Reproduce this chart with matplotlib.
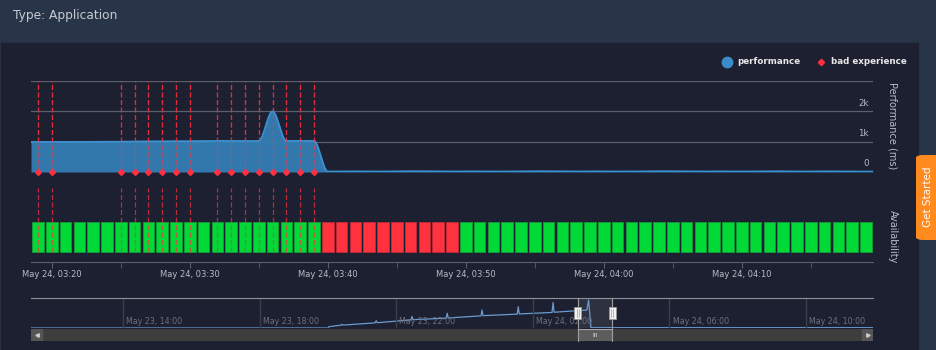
import numpy as np
import matplotlib
matplotlib.use('Agg')
import matplotlib.pyplot as plt
from matplotlib.patches import Rectangle, FancyBboxPatch

# performance (ms) per minute after 03:00, May 24
perf_min = [18.5, 19, 20, 21, 22, 23, 24, 25, 26, 27, 28, 29, 30, 31, 32, 33, 34, 35, 36, 37, 38, 39,
            40, 41, 42, 43, 44, 45, 46, 47, 48, 49, 50, 51, 52, 53, 54, 55, 56, 57, 58, 59,
            60, 61, 62, 63, 64, 65, 66, 67, 68, 69, 70, 71, 72, 73, 74, 75, 76, 77, 78, 79, 79.5]
perf_val = [990, 990, 990, 990, 990, 995, 995, 1000, 1005, 1010, 1010, 1015, 1015, 1020, 1025, 1025, 1020, 1025, 2000, 1025, 1030, 1025,
            15, 15, 20, 15, 15, 20, 25, 20, 15, 15, 20, 20, 15, 15, 20, 25, 20, 15, 15, 20,
            20, 15, 15, 20, 25, 20, 15, 15, 20, 20, 15, 20, 25, 20, 15, 15, 20, 20, 15, 15, 15]

# bad experience minutes
bad_min = [19, 20, 25, 26, 27, 28, 29, 30, 32, 33, 34, 35, 36, 37, 38, 39]

# availability per minute (1 = up, 0 = down)
avail_min = [19, 20, 21, 22, 23, 24, 25, 26, 27, 28, 29, 30, 31, 32, 33, 34, 35, 36, 37, 38, 39,
             40, 41, 42, 43, 44, 45, 46, 47, 48, 49,
             50, 51, 52, 53, 54, 55, 56, 57, 58, 59, 60, 61, 62, 63, 64, 65, 66, 67, 68, 69,
             70, 71, 72, 73, 74, 75, 76, 77, 78, 79]
avail_up = [1, 1, 1, 1, 1, 1, 1, 1, 1, 1, 1, 1, 1, 1, 1, 1, 1, 1, 1, 1, 1,
            0, 0, 0, 0, 0, 0, 0, 0, 0, 0,
            1, 1, 1, 1, 1, 1, 1, 1, 1, 1, 1, 1, 1, 1, 1, 1, 1, 1, 1, 1,
            1, 1, 1, 1, 1, 1, 1, 1, 1, 1]

x_ticks = [20, 30, 40, 50, 60, 70]
x_labels = ['May 24, 03:20', 'May 24, 03:30', 'May 24, 03:40', 'May 24, 03:50', 'May 24, 04:00', 'May 24, 04:10']
x_minor = [25, 35, 45, 55, 65, 75]
y_ticks = [0, 1000, 2000]
y_labels = ['0', '1k', '2k']

# navigator: hours after May 23 00:00
nav_h = [11.3, 20.0, 20.02, 20.38, 20.41, 20.44, 21.38, 21.41, 21.44, 22.43, 22.46, 22.49,
         23.46, 23.49, 23.52, 24.48, 24.51, 24.54, 25.54, 25.57, 25.60, 26.56, 26.59, 26.62,
         27.55, 27.58, 27.63, 27.70, 35.96]
nav_val = [0, 0, 90, 200, 260, 205, 360, 510, 370, 570, 810, 585,
           690, 1030, 705, 850, 1260, 865, 970, 1490, 985, 1090, 1780, 1105,
           1250, 1260, 1960, 20, 20]
nav_ticks = [14, 18, 22, 26, 30, 34]
nav_labels = ['May 23, 14:00', 'May 23, 18:00', 'May 23, 22:00', 'May 24, 02:00', 'May 24, 06:00', 'May 24, 10:00']

W, H = 936, 350
def box(x0, y0, x1, y1):
    return [x0 / W, 1 - y1 / H, (x1 - x0) / W, (y1 - y0) / H]

def pchip(x, y, xs):
    #monotone cubic, like the spline of the original chart
    x = np.asarray(x, float); y = np.asarray(y, float)
    h = np.diff(x); d = np.diff(y) / h
    m = np.zeros_like(y)
    for k in range(1, len(x) - 1):
        if d[k-1] * d[k] > 0:
            w1 = 2*h[k] + h[k-1]; w2 = h[k] + 2*h[k-1]
            m[k] = (w1 + w2) / (w1/d[k-1] + w2/d[k])
    idx = np.clip(np.searchsorted(x, xs) - 1, 0, len(h) - 1)
    t = (xs - x[idx]) / h[idx]
    h00 = 2*t**3 - 3*t**2 + 1; h10 = t**3 - 2*t**2 + t
    h01 = -2*t**3 + 3*t**2; h11 = t**3 - t**2
    return h00*y[idx] + h10*h[idx]*m[idx] + h01*y[idx+1] + h11*h[idx]*m[idx+1]

xlim = (18.5, 79.5)
panel = '#1c2030'
head = '#283447'
grey_txt = '#b8bcc4'
red = '#ff3040'
dash = (0, (4, 2))

fig = plt.figure(figsize=(9.36, 3.5), dpi=100)
fig.patch.set_facecolor(head)
fig.add_artist(Rectangle((1/W, 0), 917/W, 1 - 43/H, transform=fig.transFigure, color=panel, zorder=0))
fig.text(13/W, 1 - 16/H, 'Type: Application', color='#c5cad3', fontsize=8.8, va='center')

#bad experience dashed lines, performance part
ax3 = fig.add_axes(box(31, 81, 873, 172))
ax3.set_facecolor('none')
ax3.vlines(bad_min, 0, 1, colors=red, alpha=0.7, lw=0.9, linestyles=dash)
ax3.set_xlim(xlim)
ax3.set_ylim(0, 1)
ax3.axis('off')

#performance area
ax = fig.add_axes(box(31, 81, 873, 172))
ax.set_facecolor('none')
xs = np.linspace(perf_min[0], perf_min[-1], 1500)
ys = pchip(perf_min, perf_val, xs)
ax.fill_between(xs, 0, ys, color='#3580b8', alpha=0.92, lw=0, zorder=2)
ax.plot(xs, ys, color='#3c91d2', lw=1.3, zorder=3)
for v in [0, 1000, 2000, 3000]:
    ax.axhline(v, color='#5b5f69', lw=0.9, zorder=1)
for v, s in zip(y_ticks, y_labels):
    ax.text(xlim[1] - 0.3, v + 120, s, color=grey_txt, fontsize=6.3, ha='right', va='bottom')
ax.vlines(bad_min, 0, 3000, colors=red, alpha=0.55, lw=0.9, linestyles=dash, zorder=4)
ax.plot(bad_min, [0] * len(bad_min), 'D', color=red, ms=3.0, clip_on=False, zorder=6)
ax.set_xlim(xlim)
ax.set_ylim(0, 3000)
ax.axis('off')
fig.text(892/W, 1 - 126/H, 'Performance (ms)', rotation=-90, color=grey_txt, fontsize=7, ha='center', va='center')

#availability bars
ax2 = fig.add_axes(box(31, 188, 873, 262))
ax2.set_facecolor('none')
cols = ['#00d936' if u else '#ff333f' for u in avail_up]
edges = ['#169a38' if u else '#c02a38' for u in avail_up]
ax2.bar(avail_min, [1] * len(avail_min), bottom=0, width=0.84, color=cols, edgecolor=edges, lw=0.6, zorder=1)
ax2.vlines(bad_min, 0, 64 / 30, colors=red, alpha=0.7, lw=0.9, linestyles=dash, zorder=3)
ax2.set_xlim(xlim)
ax2.set_ylim(-1/3, 64 / 30)
for s in ['top', 'left', 'right']:
    ax2.spines[s].set_visible(False)
ax2.spines['bottom'].set_color('#5a5e6a')
ax2.set_yticks([])
ax2.set_xticks(x_ticks)
ax2.set_xticklabels(x_labels)
ax2.set_xticks(x_minor, minor=True)
ax2.tick_params(axis='x', which='both', length=4.3, color='#5a5e6a', labelcolor=grey_txt, labelsize=6.0, pad=1.5)
fig.text(893/W, 1 - 237/H, 'Availability', rotation=-90, color=grey_txt, fontsize=7, ha='center', va='center')

#legend
fig.add_artist(plt.Line2D([727/W], [1 - 62/H], marker='o', ms=7.5, color='#3a8cc8', transform=fig.transFigure))
fig.text(737/W, 1 - 62/H, 'performance', color='#e8e8e8', fontsize=6.3, weight='bold', va='center')
fig.add_artist(plt.Line2D([821/W], [1 - 62/H], marker='D', ms=3.2, color=red, transform=fig.transFigure))
fig.text(831/W, 1 - 62/H, 'bad experience', color='#e8e8e8', fontsize=6.3, weight='bold', va='center')

#navigator
axn = fig.add_axes(box(31, 298, 873, 328))
axn.set_facecolor('none')
axn.plot(nav_h, nav_val, color='#6b9bd0', lw=0.9)
for t, s in zip(nav_ticks, nav_labels):
    axn.axvline(t, color='#3a3f4c', lw=1)
    axn.text(t + 0.09, 150, s, color='#6c717c', fontsize=5.7, va='bottom')
axn.set_xlim(nav_h[0], nav_h[-1])
axn.set_ylim(0, 2100)
for s in ['bottom', 'left', 'right']:
    axn.spines[s].set_visible(False)
axn.spines['top'].set_color('#8e9299')
axn.set_xticks([]); axn.set_yticks([])
sel0 = 27 + xlim[0] / 60
sel1 = 27 + xlim[1] / 60
axn.axvspan(sel0, sel1, color='white', alpha=0.08)

#scrollbar
axs = fig.add_axes(box(31, 329, 873, 341))
axs.set_xlim(nav_h[0], nav_h[-1])
axs.set_ylim(0, 1)
axs.axis('off')
axs.add_patch(Rectangle((0, 0), 1, 1, color='#3e3e3e', transform=axs.transAxes, zorder=0))
bw = (nav_h[-1] - nav_h[0]) * 11 / 842
axs.add_patch(Rectangle((nav_h[0], 0), bw, 1, color='#555555'))
axs.add_patch(Rectangle((nav_h[-1] - bw, 0), bw, 1, color='#555555'))
axs.plot([nav_h[0] + bw / 2], [0.5], marker='<', ms=2.5, color='#cccccc')
axs.plot([nav_h[-1] - bw / 2], [0.5], marker='>', ms=2.5, color='#cccccc')
axs.add_patch(Rectangle((sel0, 0), sel1 - sel0, 1, facecolor='#5c5c5c', edgecolor='#a8a8a8', lw=0.8))
axs.text((sel0 + sel1) / 2, 0.45, 'III', color='#dddddd', fontsize=4.5, ha='center', va='center')

#selection outline and handles over navigator
sx0 = 31 + (sel0 - nav_h[0]) / (nav_h[-1] - nav_h[0]) * 842
sx1 = 31 + (sel1 - nav_h[0]) / (nav_h[-1] - nav_h[0]) * 842
for sx in [sx0, sx1]:
    fig.add_artist(plt.Line2D([sx/W, sx/W], [1 - 298/H, 1 - 341/H], color='#9a9a9a', lw=0.8, transform=fig.transFigure))
    fig.add_artist(Rectangle(((sx - 3.5)/W, 1 - 319/H), 7/W, 12/H, facecolor='#f2f2f2', edgecolor='#999999', lw=0.6, transform=fig.transFigure, zorder=8))
    fig.add_artist(plt.Line2D([(sx - 1)/W, (sx - 1)/W], [1 - 309/H, 1 - 317/H], color='#999999', lw=0.5, transform=fig.transFigure, zorder=9))
    fig.add_artist(plt.Line2D([(sx + 1)/W, (sx + 1)/W], [1 - 309/H, 1 - 317/H], color='#999999', lw=0.5, transform=fig.transFigure, zorder=9))

#get started tab
fig.add_artist(FancyBboxPatch((916/W, 1 - 240/H), 30/W, 85/H, boxstyle='round,pad=0,rounding_size=0.008',
                              facecolor='#ff8a1e', edgecolor='none', transform=fig.transFigure, zorder=5))
fig.text(928/W, 1 - 197/H, 'Get Started', rotation=90, color='white', fontsize=7.5, ha='center', va='center', zorder=6)

plt.savefig('out.png', dpi=100, facecolor=fig.get_facecolor())
